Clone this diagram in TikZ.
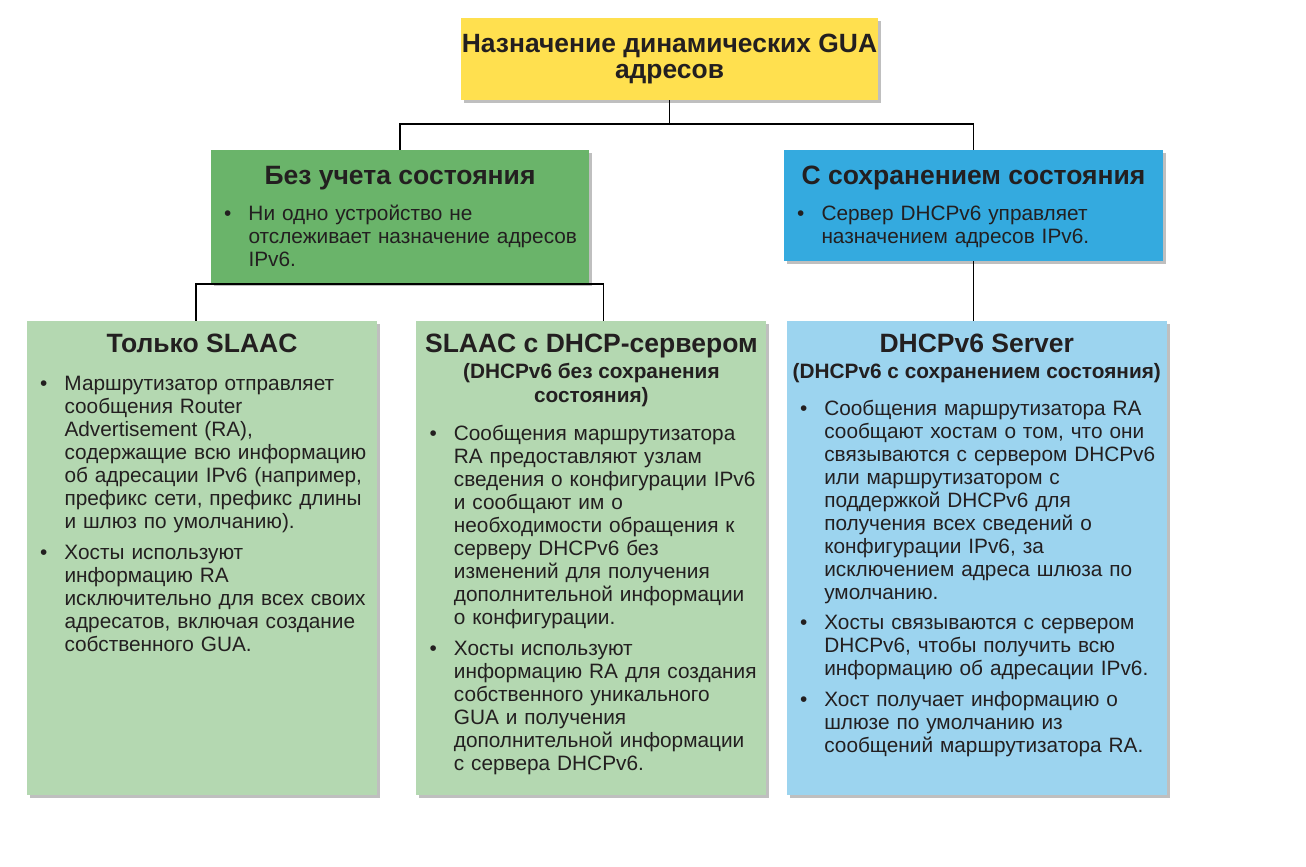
\documentclass[tikz,border=0pt]{standalone}
\usepackage{fontspec}
\setmainfont{Liberation Sans}
\usetikzlibrary{positioning,shadows,backgrounds,calc}
\definecolor{gaYellow}{RGB}{255,224,79}
\definecolor{gaGreen}{RGB}{106,180,106}
\definecolor{gaBlue}{RGB}{52,170,223}
\definecolor{gaLightGreen}{RGB}{180,216,177}
\definecolor{gaLightBlue}{RGB}{156,212,239}
\definecolor{gaInk}{RGB}{35,31,32}
\newcommand{\gaitem}{\par\noindent\llap{\textbullet\hspace{17pt}}\strut}

\begin{document}
\begin{tikzpicture}[
  x=1pt,y=-1pt,
  panel/.style={
    inner sep=0pt,
    text=gaInk,
    drop shadow={shadow xshift=3pt,shadow yshift=-3pt,fill=black,opacity=.25}
  },
  heading/.style={anchor=base,inner sep=0pt,text=gaInk,font=\bfseries\fontsize{26.5}{28}\selectfont},
  subheading/.style={anchor=north,inner sep=0pt,align=center,text=gaInk,font=\bfseries\fontsize{20.8}{24}\selectfont},
  bullets/.style={anchor=north west,inner sep=0pt,text width=420pt,align=left,text=gaInk,
    font=\fontsize{20.8}{23}\selectfont},
  link/.style={line width=1.5pt,black}
]
  \useasboundingbox (0,0) rectangle (1306,867);

  % top level
  \node[panel,fill=gaYellow,minimum width=417pt,minimum height=82pt,align=center,
    font=\bfseries\fontsize{26.4}{26.5}\selectfont] (title) at (669.5,59)
    {Назначение динамических GUA\\адресов};

  % second level
  \node[panel,fill=gaGreen,minimum width=378pt,minimum height=133pt] (stateless) at (400,216.5) {};
  \node[panel,fill=gaBlue,minimum width=379pt,minimum height=111pt] (stateful) at (973.5,205.5) {};

  % third level
  \node[panel,fill=gaLightGreen,minimum width=350pt,minimum height=474pt] (slaac) at (202,558) {};
  \node[panel,fill=gaLightGreen,minimum width=350pt,minimum height=474pt,right=39pt of slaac] (slaacdhcp) {};
  \node[panel,fill=gaLightBlue,minimum width=380pt,minimum height=474pt,right=20pt of slaacdhcp] (dhcpserver) {};

  % texts
  \node[heading] (statelessHead) at ([yshift=-35pt]stateless.north) {Без учета состояния};
  \node[bullets] (statelessText) at ([shift={(37.5,47.9)}]stateless.north west)
    {\gaitem Ни одно устройство не\\отслеживает назначение адресов\\IPv6.};

  \node[heading] (statefulHead) at ([yshift=-35pt]stateful.north) {С сохранением состояния};
  \node[bullets] (statefulText) at ([shift={(37.5,47.9)}]stateful.north west)
    {\gaitem Сервер DHCPv6 управляет\\назначением адресов IPv6.};

  \node[heading] (slaacHead) at ([yshift=-32pt]slaac.north) {Только SLAAC};
  \node[bullets] (slaacText) at ([shift={(37.5,39.4)}]slaac.north west)
    {\setlength{\parskip}{7.5pt}%
     \gaitem Маршрутизатор отправляет\\сообщения Router\\Advertisement (RA),\\содержащие всю информацию\\об адресации IPv6 (например,\\префикс сети, префикс длины\\и шлюз по умолчанию).
     \gaitem Хосты используют\\информацию RA\\исключительно для всех своих\\адресатов, включая создание\\собственного GUA.};

  \node[heading] (slaacdhcpHead) at ([yshift=-32pt]slaacdhcp.north) {SLAAC с DHCP-сервером};
  \node[subheading] (slaacdhcpSub) at ([yshift=-40.2pt]slaacdhcp.north)
    {\strut(DHCPv6 без сохранения\\состояния)};
  \node[bullets] (slaacdhcpText) at ([shift={(37.5,89.4)}]slaacdhcp.north west)
    {\setlength{\parskip}{7.5pt}%
     \gaitem Сообщения маршрутизатора\\RA предоставляют узлам\\сведения о конфигурации IPv6\\и сообщают им о\\необходимости обращения к\\серверу DHCPv6 без\\изменений для получения\\дополнительной информации\\о конфигурации.
     \gaitem Хосты используют\\информацию RA для создания\\собственного уникального\\GUA и получения\\дополнительной информации\\с сервера DHCPv6.};

  \node[heading] (dhcpserverHead) at ([yshift=-32pt]dhcpserver.north) {DHCPv6 Server};
  \node[subheading] (dhcpserverSub) at ([yshift=-40.2pt]dhcpserver.north)
    {\strut(DHCPv6 с сохранением состояния)};
  \node[bullets] (dhcpserverText) at ([shift={(37.5,63.9)}]dhcpserver.north west)
    {\setlength{\parskip}{7.5pt}%
     \gaitem Сообщения маршрутизатора RA\\сообщают хостам о том, что они\\связываются с сервером DHCPv6\\или маршрутизатором с\\поддержкой DHCPv6 для\\получения всех сведений о\\конфигурации IPv6, за\\исключением адреса шлюза по\\умолчанию.
     \gaitem Хосты связываются с сервером\\DHCPv6, чтобы получить всю\\информацию об адресации IPv6.
     \gaitem Хост получает информацию о\\шлюзе по умолчанию из\\сообщений маршрутизатора RA.};

  % connectors behind the boxes
  \begin{pgfonlayer}{background}
    \fill[white] (0,0) rectangle (1306,867);
    \draw[link] (title.south) -- ([yshift=-24pt]title.south);
    \draw[link] (stateless.north) |- ([yshift=-24pt]title.south) -| (stateful.north);
    \draw[link] ([yshift=-1pt]stateless.south) -| ([xshift=-6pt]slaac.north);
    \draw[link] ([yshift=-1pt]stateless.south) -| ([xshift=12pt]slaacdhcp.north);
    \draw[link] (stateful.south) -- (stateful.south |- dhcpserver.north);
  \end{pgfonlayer}
\end{tikzpicture}
\end{document}
